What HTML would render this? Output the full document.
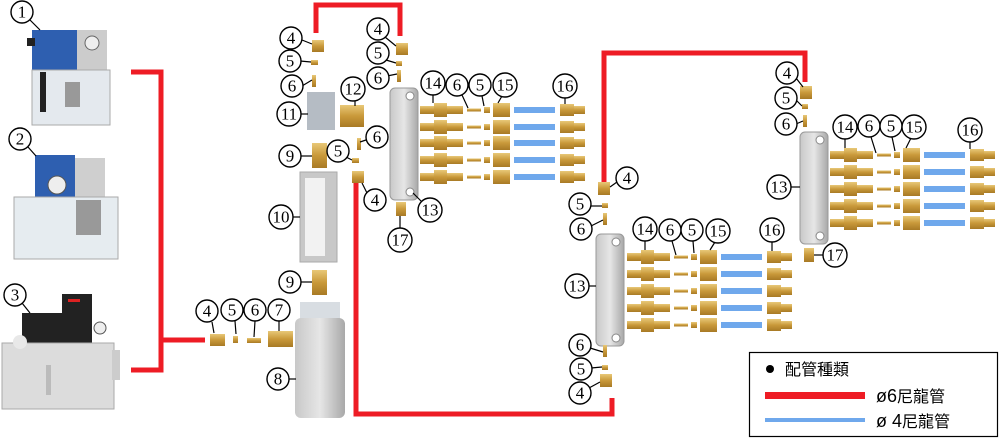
<!DOCTYPE html>
<html><head><meta charset="utf-8"><style>
html,body{margin:0;padding:0;background:#fff;}
svg{display:block;}
.c circle{fill:#fff;stroke:#000;stroke-width:1.4;}
.c text{font-family:"Liberation Serif",serif;font-size:17px;text-anchor:middle;dominant-baseline:central;fill:#000;}
.ld line{stroke:#000;stroke-width:1.2;}
</style></head><body>
<svg width="1000" height="441" viewBox="0 0 1000 441" xmlns="http://www.w3.org/2000/svg">
<defs>
<linearGradient id="br" x1="0" y1="0" x2="0" y2="1"><stop offset="0" stop-color="#e8c878"/><stop offset=".5" stop-color="#c9993a"/><stop offset="1" stop-color="#a87a25"/></linearGradient>
<linearGradient id="gr" x1="0" y1="0" x2="1" y2="0"><stop offset="0" stop-color="#c8c8c8"/><stop offset=".5" stop-color="#e6e6e6"/><stop offset="1" stop-color="#a8a8a8"/></linearGradient>
<g id="row">
 <rect x="0" y="-4" width="14" height="8" fill="url(#br)"/>
 <rect x="14" y="-7" width="13" height="14" fill="url(#br)"/>
 <rect x="27" y="-4" width="16" height="8" fill="url(#br)"/>
 <rect x="47" y="-1.5" width="14" height="3" fill="url(#br)"/>
 <rect x="64" y="-3" width="6" height="6" fill="url(#br)"/>
 <rect x="73" y="-7" width="17" height="14" fill="url(#br)"/>
 <rect x="94" y="-3" width="41" height="6" fill="#6fa8ec"/>
 <rect x="140" y="-6" width="14" height="12" fill="url(#br)"/>
 <rect x="154" y="-4" width="11" height="8" fill="url(#br)"/>
</g>
<g id="man">
 <rect x="0" y="0" width="28" height="112" rx="5" fill="url(#gr)" stroke="#999"/>
 <circle cx="20" cy="8" r="4" fill="#fff" stroke="#888"/>
 <circle cx="20" cy="104" r="4" fill="#fff" stroke="#888"/>
</g>
</defs>

<g fill="none" stroke="#ee1c25" stroke-width="5">
<polyline points="131,72 161,72 161,370 131,370"/>
<line x1="161" y1="340" x2="205" y2="340"/>
<polyline points="316,33 316,5 400,5 400,36"/>
<polyline points="356,183 356,414 612,414 612,398"/>
<polyline points="604,185 604,53 805,53 805,82"/>
</g>

<!-- pump 1 -->
<rect x="32" y="30" width="45" height="40" fill="#2e5fb0"/>
<rect x="77" y="30" width="30" height="40" fill="#ccc"/>
<circle cx="92" cy="43" r="7" fill="#eee" stroke="#666"/>
<rect x="27" y="38" width="8" height="8" fill="#222"/>
<rect x="32" y="70" width="78" height="55" fill="#e4e9ee" stroke="#aaa"/>
<rect x="40" y="72" width="6" height="40" fill="#222"/>
<rect x="65" y="82" width="15" height="25" fill="#999"/>
<!-- pump 2 -->
<rect x="35" y="155" width="40" height="42" fill="#2e5fb0"/>
<rect x="75" y="158" width="30" height="40" fill="#cfcfcf"/>
<circle cx="57" cy="185" r="9" fill="#eee" stroke="#555"/>
<rect x="14" y="197" width="104" height="62" fill="#e6ecf0" stroke="#aaa"/>
<rect x="76" y="200" width="25" height="35" fill="#999"/>
<!-- pump 3 -->
<rect x="22" y="313" width="42" height="32" fill="#222"/>
<rect x="62" y="294" width="30" height="50" fill="#222"/>
<rect x="68" y="299" width="12" height="3" fill="#d22"/>
<circle cx="100" cy="328" r="6" fill="#eee" stroke="#555"/>
<rect x="2" y="343" width="112" height="66" fill="#dcdcdc" stroke="#aaa"/>
<rect x="112" y="350" width="8" height="30" fill="#ccc"/>
<rect x="46" y="365" width="5" height="30" fill="#bbb"/>
<circle cx="20" cy="342" r="7" fill="#e8e8e8"/>

<!-- left parts -->
<rect x="210" y="334" width="15" height="12" fill="url(#br)"/>
<rect x="233" y="336" width="5" height="7" fill="url(#br)"/>
<rect x="247" y="338" width="14" height="5" fill="url(#br)"/>
<rect x="268" y="331" width="25" height="16" fill="url(#br)"/>
<rect x="300" y="302" width="40" height="30" fill="#d8dde2"/>
<rect x="295" y="318" width="50" height="100" rx="6" fill="url(#gr)"/>
<rect x="312" y="270" width="15" height="25" fill="url(#br)"/>
<rect x="300" y="172" width="37" height="90" fill="#c8c8c8" stroke="#aaa"/>
<rect x="305" y="178" width="20" height="78" fill="#f2f2f2"/>
<rect x="312" y="143" width="15" height="25" fill="url(#br)"/>
<rect x="307" y="92" width="28" height="38" fill="#b5bcc4"/>
<rect x="340" y="105" width="24" height="22" fill="url(#br)"/>
<rect x="312" y="40" width="12" height="12" fill="url(#br)"/>
<rect x="311" y="60" width="7" height="5" fill="url(#br)"/>
<rect x="312" y="75" width="4" height="12" fill="url(#br)"/>
<rect x="396" y="43" width="12" height="12" fill="url(#br)"/>
<rect x="396" y="61" width="6" height="5" fill="url(#br)"/>
<rect x="397" y="70" width="4" height="12" fill="url(#br)"/>
<rect x="357" y="138" width="4" height="12" fill="url(#br)"/>
<rect x="352" y="158" width="7" height="5" fill="url(#br)"/>
<rect x="352" y="171" width="12" height="12" fill="url(#br)"/>
<rect x="396" y="202" width="10" height="14" fill="url(#br)"/>

<use href="#man" x="390" y="88"/>
<use href="#row" x="420" y="110"/><use href="#row" x="420" y="127"/><use href="#row" x="420" y="143"/><use href="#row" x="420" y="160"/><use href="#row" x="420" y="177"/>

<rect x="598" y="182" width="12" height="13" fill="url(#br)"/>
<rect x="602" y="203" width="6" height="5" fill="url(#br)"/>
<rect x="603" y="213" width="4" height="12" fill="url(#br)"/>
<use href="#man" x="596" y="234"/>
<use href="#row" x="627" y="257"/><use href="#row" x="627" y="274"/><use href="#row" x="627" y="291"/><use href="#row" x="627" y="308"/><use href="#row" x="627" y="325"/>
<rect x="603" y="345" width="4" height="12" fill="url(#br)"/>
<rect x="602" y="365" width="6" height="5" fill="url(#br)"/>
<rect x="600" y="374" width="12" height="13" fill="url(#br)"/>

<rect x="800" y="86" width="12" height="13" fill="url(#br)"/>
<rect x="802" y="104" width="6" height="5" fill="url(#br)"/>
<rect x="803" y="115" width="4" height="12" fill="url(#br)"/>
<use href="#man" x="800" y="132"/>
<use href="#row" x="830" y="155"/><use href="#row" x="830" y="172"/><use href="#row" x="830" y="189"/><use href="#row" x="830" y="206"/><use href="#row" x="830" y="223"/>
<rect x="804" y="248" width="10" height="14" fill="url(#br)"/>

<!-- leader lines -->
<g class="ld">
<line x1="30" y1="20" x2="40" y2="30"/><line x1="28" y1="147" x2="36" y2="156"/><line x1="22" y1="303" x2="30" y2="313"/>
<line x1="212" y1="322" x2="214" y2="333"/><line x1="235" y1="321" x2="236" y2="334"/><line x1="255" y1="321" x2="254" y2="337"/><line x1="279" y1="321" x2="279" y2="331"/>
<line x1="289" y1="379" x2="296" y2="379"/><line x1="301" y1="156" x2="312" y2="156"/><line x1="301" y1="282" x2="312" y2="282"/>
<line x1="292" y1="217" x2="300" y2="217"/><line x1="300" y1="114" x2="308" y2="114"/><line x1="355" y1="100" x2="355" y2="106"/>
<line x1="302" y1="40" x2="312" y2="44"/><line x1="300" y1="61" x2="311" y2="62"/><line x1="302" y1="86" x2="312" y2="80"/>
<line x1="385" y1="37" x2="396" y2="46"/><line x1="386" y1="60" x2="396" y2="63"/><line x1="387" y1="76" x2="397" y2="74"/>
<line x1="366" y1="140" x2="360" y2="142"/><line x1="346" y1="157" x2="352" y2="160"/><line x1="367" y1="193" x2="362" y2="183"/>
<line x1="422" y1="202" x2="413" y2="193"/><line x1="400" y1="229" x2="400" y2="216"/>
<line x1="433" y1="94" x2="433" y2="103"/><line x1="462" y1="95" x2="468" y2="108"/><line x1="482" y1="96" x2="484" y2="106"/><line x1="502" y1="96" x2="498" y2="103"/><line x1="565" y1="97" x2="565" y2="104"/>
<line x1="617" y1="182" x2="610" y2="187"/><line x1="590" y1="206" x2="602" y2="206"/><line x1="591" y1="226" x2="603" y2="220"/><line x1="588" y1="286" x2="596" y2="286"/>
<line x1="645" y1="240" x2="645" y2="250"/><line x1="672" y1="241" x2="676" y2="255"/><line x1="693" y1="241" x2="694" y2="253"/><line x1="715" y1="242" x2="710" y2="250"/><line x1="772" y1="241" x2="772" y2="251"/>
<line x1="590" y1="348" x2="603" y2="352"/><line x1="591" y1="368" x2="602" y2="367"/><line x1="589" y1="388" x2="600" y2="382"/>
<line x1="796" y1="78" x2="803" y2="87"/><line x1="796" y1="100" x2="802" y2="106"/><line x1="796" y1="124" x2="803" y2="121"/><line x1="790" y1="187" x2="800" y2="187"/>
<line x1="845" y1="138" x2="845" y2="148"/><line x1="871" y1="137" x2="876" y2="153"/><line x1="892" y1="137" x2="895" y2="151"/><line x1="911" y1="138" x2="906" y2="148"/><line x1="970" y1="141" x2="970" y2="149"/>
<line x1="824" y1="255" x2="814" y2="255"/>
</g>

<g class="c">
<g><circle cx="22" cy="12" r="11"/><text x="22" y="12">1</text></g>
<g><circle cx="20" cy="139" r="11"/><text x="20" y="139">2</text></g>
<g><circle cx="15" cy="295" r="11"/><text x="15" y="295">3</text></g>
<g><circle cx="207" cy="311" r="11"/><text x="207" y="311">4</text></g>
<g><circle cx="232" cy="310" r="11"/><text x="232" y="310">5</text></g>
<g><circle cx="255" cy="310" r="11"/><text x="255" y="310">6</text></g>
<g><circle cx="279" cy="310" r="11"/><text x="279" y="310">7</text></g>
<g><circle cx="278" cy="379" r="11"/><text x="278" y="379">8</text></g>
<g><circle cx="290" cy="156" r="11"/><text x="290" y="156">9</text></g>
<g><circle cx="290" cy="282" r="11"/><text x="290" y="282">9</text></g>
<g><circle cx="281" cy="217" r="12"/><text x="281" y="217">10</text></g>
<g><circle cx="289" cy="114" r="12"/><text x="289" y="114">11</text></g>
<g><circle cx="353" cy="89" r="12"/><text x="353" y="89">12</text></g>
<g><circle cx="291" cy="38" r="11"/><text x="291" y="38">4</text></g>
<g><circle cx="290" cy="61" r="11"/><text x="290" y="61">5</text></g>
<g><circle cx="292" cy="86" r="11"/><text x="292" y="86">6</text></g>
<g><circle cx="378" cy="29" r="11"/><text x="378" y="29">4</text></g>
<g><circle cx="378" cy="53" r="11"/><text x="378" y="53">5</text></g>
<g><circle cx="378" cy="78" r="11"/><text x="378" y="78">6</text></g>
<g><circle cx="377" cy="137" r="11"/><text x="377" y="137">6</text></g>
<g><circle cx="338" cy="151" r="11"/><text x="338" y="151">5</text></g>
<g><circle cx="375" cy="200" r="11"/><text x="375" y="200">4</text></g>
<g><circle cx="430" cy="210" r="12"/><text x="430" y="210">13</text></g>
<g><circle cx="400" cy="240" r="12"/><text x="400" y="240">17</text></g>
<g><circle cx="433" cy="83" r="12"/><text x="433" y="83">14</text></g>
<g><circle cx="457" cy="85" r="11"/><text x="457" y="85">6</text></g>
<g><circle cx="480" cy="85" r="11"/><text x="480" y="85">5</text></g>
<g><circle cx="505" cy="85" r="12"/><text x="505" y="85">15</text></g>
<g><circle cx="565" cy="86" r="12"/><text x="565" y="86">16</text></g>
<g><circle cx="627" cy="178" r="11"/><text x="627" y="178">4</text></g>
<g><circle cx="580" cy="204" r="11"/><text x="580" y="204">5</text></g>
<g><circle cx="581" cy="229" r="11"/><text x="581" y="229">6</text></g>
<g><circle cx="577" cy="286" r="12"/><text x="577" y="286">13</text></g>
<g><circle cx="645" cy="229" r="12"/><text x="645" y="229">14</text></g>
<g><circle cx="670" cy="230" r="11"/><text x="670" y="230">6</text></g>
<g><circle cx="692" cy="230" r="11"/><text x="692" y="230">5</text></g>
<g><circle cx="718" cy="231" r="12"/><text x="718" y="231">15</text></g>
<g><circle cx="772" cy="230" r="12"/><text x="772" y="230">16</text></g>
<g><circle cx="580" cy="345" r="11"/><text x="580" y="345">6</text></g>
<g><circle cx="581" cy="369" r="11"/><text x="581" y="369">5</text></g>
<g><circle cx="580" cy="393" r="11"/><text x="580" y="393">4</text></g>
<g><circle cx="787" cy="73" r="11"/><text x="787" y="73">4</text></g>
<g><circle cx="786" cy="98" r="11"/><text x="786" y="98">5</text></g>
<g><circle cx="786" cy="124" r="11"/><text x="786" y="124">6</text></g>
<g><circle cx="845" cy="127" r="12"/><text x="845" y="127">14</text></g>
<g><circle cx="869" cy="126" r="11"/><text x="869" y="126">6</text></g>
<g><circle cx="891" cy="126" r="11"/><text x="891" y="126">5</text></g>
<g><circle cx="914" cy="127" r="12"/><text x="914" y="127">15</text></g>
<g><circle cx="970" cy="130" r="12"/><text x="970" y="130">16</text></g>
<g><circle cx="779" cy="187" r="12"/><text x="779" y="187">13</text></g>
<g><circle cx="835" cy="255" r="12"/><text x="835" y="255">17</text></g>
</g>

<rect x="749.5" y="352.5" width="248" height="84" fill="#fff" stroke="#000" stroke-width="1.2"/>
<circle cx="770" cy="369" r="4" fill="#000"/>
<text x="785" y="375" font-family="'Liberation Sans','Noto Sans CJK TC',sans-serif" font-size="16" fill="#000">配管種類</text>
<rect x="765" y="392" width="100" height="7" fill="#ee1c25"/>
<text x="876" y="402" font-family="'Liberation Sans','Noto Sans CJK TC',sans-serif" font-size="18" fill="#000">ø6<tspan font-size="16">尼龍管</tspan></text>
<rect x="765" y="418" width="100" height="4" fill="#6fa8ec"/>
<text x="876" y="427" font-family="'Liberation Sans','Noto Sans CJK TC',sans-serif" font-size="18" fill="#000">ø 4<tspan font-size="16">尼龍管</tspan></text>
</svg>
</body></html>
